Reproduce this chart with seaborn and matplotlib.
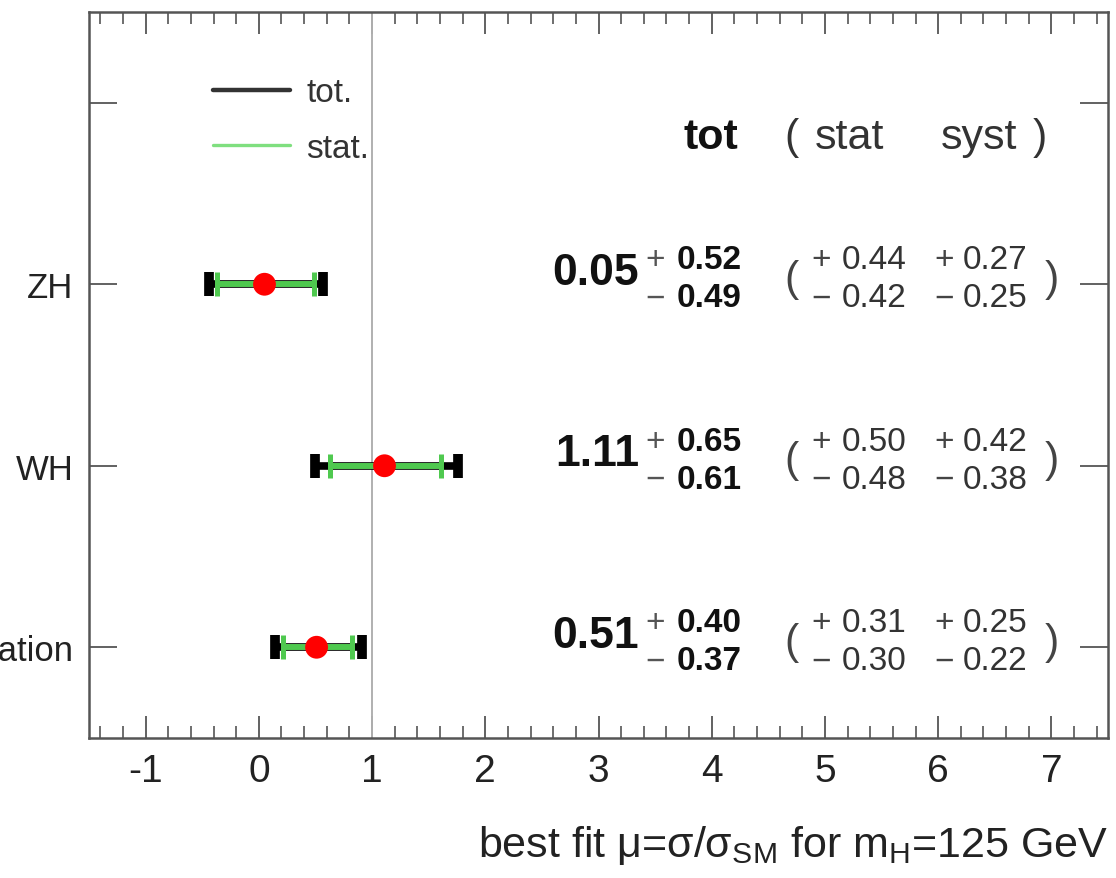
import numpy as np
import pandas as pd
import matplotlib
matplotlib.use("Agg")
import matplotlib.pyplot as plt
from matplotlib.lines import Line2D
from matplotlib.ticker import MultipleLocator, FixedLocator
import seaborn as sns

# ---- data ----
categories = ["Combination", "WH", "ZH"]
mu = [0.51, 1.11, 0.05]
tot_up = [0.40, 0.65, 0.52]
tot_dn = [0.37, 0.61, 0.49]
stat_up = [0.31, 0.50, 0.44]
stat_dn = [0.30, 0.48, 0.42]
syst_up = [0.25, 0.42, 0.27]
syst_dn = [0.22, 0.38, 0.25]
x_ticks = [-1, 0, 1, 2, 3, 4, 5, 6, 7]

sns.set_style("ticks")
plt.rcParams["font.family"] = ["Liberation Sans", "DejaVu Sans"]
plt.rcParams["mathtext.fontset"] = "custom"
plt.rcParams["mathtext.rm"] = "Liberation Sans"
plt.rcParams["mathtext.it"] = "Liberation Sans:italic"
plt.rcParams["mathtext.bf"] = "Liberation Sans:bold"

pos = np.arange(len(categories))
df = pd.DataFrame({"cat": categories, "mu": mu, "pos": pos})

fig = plt.figure(figsize=(11.16, 8.79), dpi=100)
ax = fig.add_axes([89 / 1116, 1 - 739 / 879, (1108 - 89) / 1116, (739 - 13) / 879])

ax.axvline(1, color="#b0b0b0", lw=1.4, zorder=1)

# total uncertainty (black)
ax.errorbar(mu, pos, xerr=[tot_dn, tot_up], fmt="none", ecolor="black",
            elinewidth=5.5, capsize=8.6, capthick=7.0, zorder=2)
# stat uncertainty (green)
ax.errorbar(mu, pos, xerr=[stat_dn, stat_up], fmt="none", ecolor="#4fc94f",
            elinewidth=4.3, capsize=8.6, capthick=3.6, zorder=3)
sns.scatterplot(data=df, x="mu", y="pos", ax=ax, color="#ff0000", s=270,
                edgecolor="none", linewidth=0, zorder=4, legend=False)

ax.set_xlim(-1.5, 7.5)
ax.set_ylim(-0.5, 3.5)
ax.xaxis.set_major_locator(FixedLocator(x_ticks))
ax.xaxis.set_minor_locator(MultipleLocator(0.2))
ax.set_xticklabels([str(t) for t in x_ticks])
ax.set_yticks(list(pos) + [3])
ax.set_yticklabels(categories + [""])
ax.tick_params(axis="x", which="major", direction="in", length=15.5, width=1.3,
               top=True, bottom=True, labelsize=28, pad=11, colors="#555555",
               labelcolor="#222222")
ax.tick_params(axis="x", which="minor", direction="in", length=8.5, width=1.2,
               top=True, bottom=True, colors="#555555")
ax.tick_params(axis="y", which="major", direction="in", length=20, width=1.3,
               left=True, right=True, labelsize=25, pad=11, colors="#555555",
               labelcolor="#222222")
for s in ax.spines.values():
    s.set_color("#555555")
    s.set_linewidth(1.8)
ax.set_ylabel("")
ax.set_xlabel("best fit μ=σ/σ$_{\\mathrm{SM}}$ for m$_{\\mathrm{H}}$=125 GeV",
              fontsize=31, loc="right", labelpad=24, color="#222222")

# header
hy = 2.81
ax.text(3.99, hy, "tot", fontsize=31, fontweight="bold", ha="center", va="center", color="#111111")
ax.text(4.705, hy, "(", fontsize=31, ha="center", va="center", color="#333333")
ax.text(5.217, hy, "stat", fontsize=31, ha="center", va="center", color="#333333")
ax.text(6.364, hy, "syst", fontsize=31, ha="center", va="center", color="#333333")
ax.text(6.90, hy, ")", fontsize=31, ha="center", va="center", color="#333333")

# per-row numbers
for i in range(len(categories)):
    p = pos[i]
    up, dn = p + 0.135, p - 0.075
    ax.text(3.36, p + 0.065, f"{mu[i]:.2f}", fontsize=32, fontweight="bold",
            ha="right", va="center", color="#111111")
    ax.text(3.50, up, "+", fontsize=24, ha="center", va="center", color="#555555")
    ax.text(3.50, dn, "\u2212", fontsize=24, ha="center", va="center", color="#555555")
    ax.text(3.69, up, f"{tot_up[i]:.2f}", fontsize=24, fontweight="bold",
            ha="left", va="center", color="#111111")
    ax.text(3.69, dn, f"{tot_dn[i]:.2f}", fontsize=24, fontweight="bold",
            ha="left", va="center", color="#111111")
    ax.text(4.705, p + 0.03, "(", fontsize=31, ha="center", va="center", color="#444444")
    ax.text(7.0, p + 0.03, ")", fontsize=31, ha="center", va="center", color="#444444")
    ax.text(4.97, up, "+", fontsize=24, ha="center", va="center", color="#444444")
    ax.text(4.97, dn, "\u2212", fontsize=24, ha="center", va="center", color="#444444")
    ax.text(5.146, up, f"{stat_up[i]:.2f}", fontsize=24, ha="left", va="center", color="#333333")
    ax.text(5.146, dn, f"{stat_dn[i]:.2f}", fontsize=24, ha="left", va="center", color="#333333")
    ax.text(6.055, up, "+", fontsize=24, ha="center", va="center", color="#444444")
    ax.text(6.055, dn, "\u2212", fontsize=24, ha="center", va="center", color="#444444")
    ax.text(6.214, up, f"{syst_up[i]:.2f}", fontsize=24, ha="left", va="center", color="#333333")
    ax.text(6.214, dn, f"{syst_dn[i]:.2f}", fontsize=24, ha="left", va="center", color="#333333")

# legend
handles = [Line2D([0], [0], color="#333333", lw=3.2),
           Line2D([0], [0], color="#7fdf7f", lw=2.4)]
leg = ax.legend(handles, ["tot.", "stat."], loc="center left",
                bbox_to_anchor=((213 - 89) / 1019, (739 - 121.5) / 726),
                frameon=False, fontsize=24, handlelength=2.3, handletextpad=0.5,
                labelspacing=0.72, borderpad=0, borderaxespad=0)
for t in leg.get_texts():
    t.set_color("#333333")

fig.savefig("out.png", dpi=100)
